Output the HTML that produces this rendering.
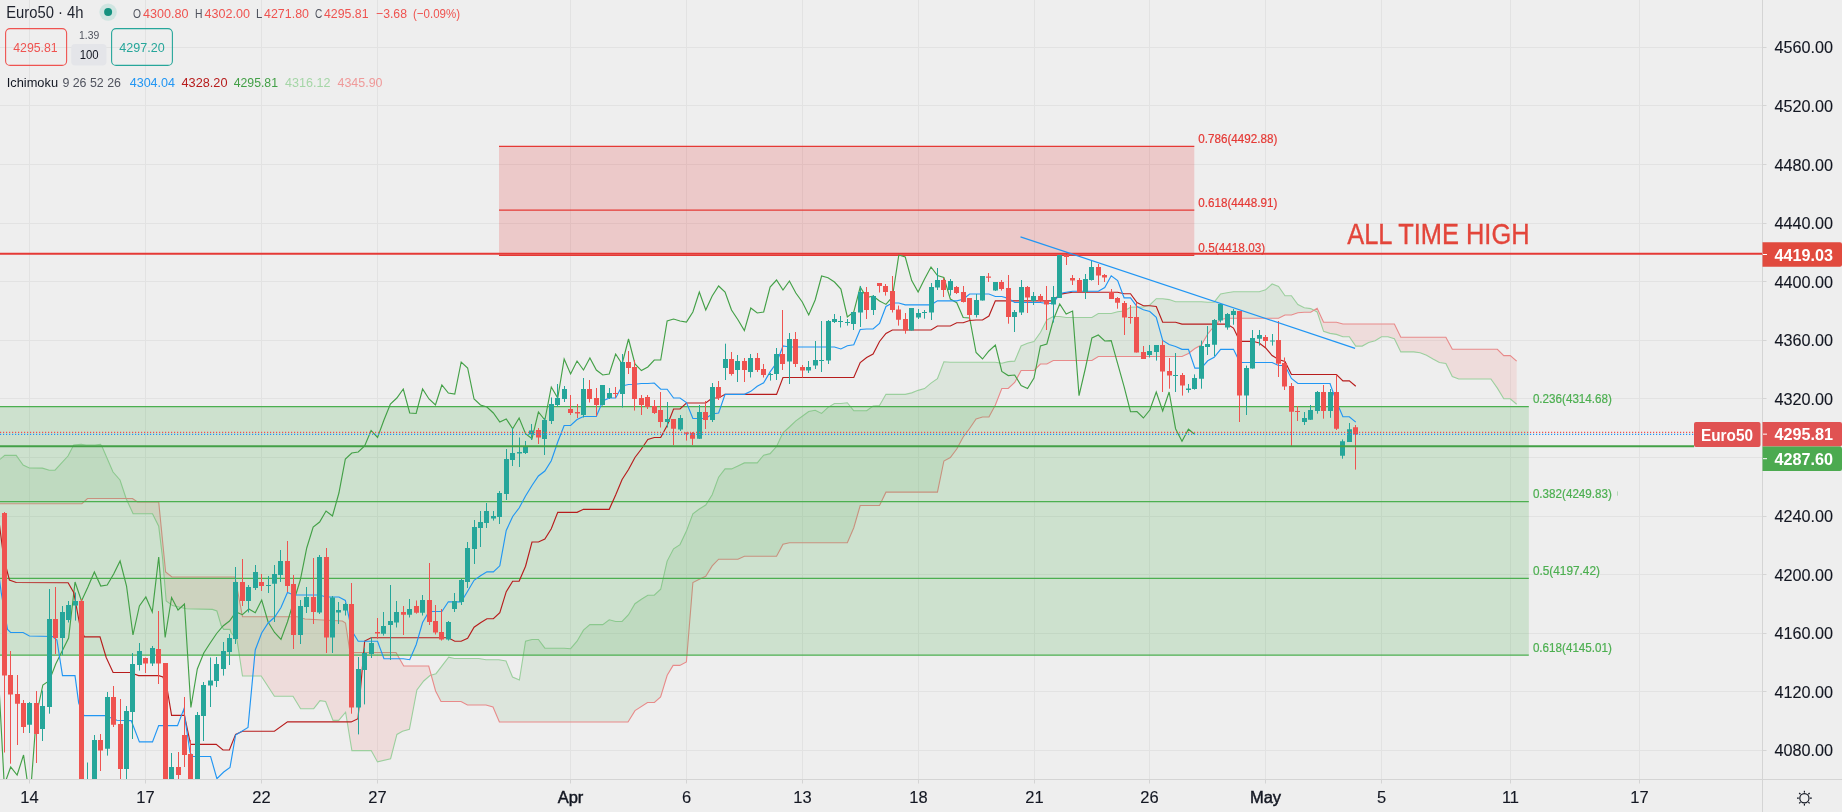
<!DOCTYPE html>
<html><head><meta charset="utf-8"><style>
html,body{margin:0;padding:0;background:#eeeeee;}
body{width:1842px;height:812px;overflow:hidden;position:relative;font-family:"Liberation Sans",sans-serif;}
</style></head><body>
<svg width="1842" height="812" viewBox="0 0 1842 812" style="position:absolute;left:0;top:0;will-change:transform"><rect width="1842" height="812" fill="#eeeeee"/><g stroke="#e2e2e2" stroke-width="1"><line x1="29.5" y1="0" x2="29.5" y2="779.5" /><line x1="145.5" y1="0" x2="145.5" y2="779.5" /><line x1="261.5" y1="0" x2="261.5" y2="779.5" /><line x1="377.5" y1="0" x2="377.5" y2="779.5" /><line x1="570.5" y1="0" x2="570.5" y2="779.5" /><line x1="686.5" y1="0" x2="686.5" y2="779.5" /><line x1="802.5" y1="0" x2="802.5" y2="779.5" /><line x1="918.5" y1="0" x2="918.5" y2="779.5" /><line x1="1034.5" y1="0" x2="1034.5" y2="779.5" /><line x1="1149.5" y1="0" x2="1149.5" y2="779.5" /><line x1="1265.5" y1="0" x2="1265.5" y2="779.5" /><line x1="1381.5" y1="0" x2="1381.5" y2="779.5" /><line x1="1510.5" y1="0" x2="1510.5" y2="779.5" /><line x1="1639.5" y1="0" x2="1639.5" y2="779.5" /><line x1="0" y1="47.5" x2="1762.5" y2="47.5" /><line x1="0" y1="105.5" x2="1762.5" y2="105.5" /><line x1="0" y1="164.5" x2="1762.5" y2="164.5" /><line x1="0" y1="223.5" x2="1762.5" y2="223.5" /><line x1="0" y1="281.5" x2="1762.5" y2="281.5" /><line x1="0" y1="340.5" x2="1762.5" y2="340.5" /><line x1="0" y1="398.5" x2="1762.5" y2="398.5" /><line x1="0" y1="457.5" x2="1762.5" y2="457.5" /><line x1="0" y1="516.5" x2="1762.5" y2="516.5" /><line x1="0" y1="574.5" x2="1762.5" y2="574.5" /><line x1="0" y1="633.5" x2="1762.5" y2="633.5" /><line x1="0" y1="691.5" x2="1762.5" y2="691.5" /><line x1="0" y1="750.5" x2="1762.5" y2="750.5" /></g><defs><clipPath id="pane"><rect x="0" y="0" width="1762" height="779"/></clipPath></defs><g clip-path="url(#pane)"><polygon points="0.00,459.40 4.75,455.40 16.20,455.40 23.10,465.00 29.30,468.00 42.40,468.10 49.30,470.20 55.00,470.20 68.00,456.00 73.70,445.00 81.10,444.40 81.90,444.50 86.10,445.00 87.50,445.00 95.00,445.00 100.50,444.40 101.80,446.00 107.40,459.00 113.00,472.00 120.00,480.00 126.13,498.50 126.13,498.50 120.00,498.50 113.00,498.50 107.40,498.50 101.80,498.50 100.50,498.50 95.00,498.50 87.50,498.50 86.10,499.80 81.90,503.70 81.10,503.70 73.70,503.70 68.00,503.70 55.00,503.70 49.30,503.70 42.40,503.70 29.30,503.70 23.10,503.70 16.20,503.70 4.75,503.70 0.00,503.70" fill="rgba(67,160,71,0.10)"/><polygon points="126.13,498.50 126.20,498.70 132.50,512.40 133.10,513.70 137.50,513.70 139.40,513.70 152.50,513.70 158.70,526.20 162.50,557.50 165.60,593.95 166.20,601.00 171.90,605.16 172.50,605.60 186.20,608.70 212.50,609.40 216.90,611.00 221.20,625.60 223.70,629.40 230.00,629.40 231.00,632.50 235.00,637.50 237.00,640.00 242.50,676.00 261.20,676.00 274.40,696.20 293.00,696.20 297.40,703.44 300.60,708.70 305.00,708.70 313.70,708.70 320.00,700.60 322.40,700.99 325.60,701.50 333.00,720.40 338.70,720.40 342.40,716.00 345.50,712.32 345.60,712.20 350.00,739.02 351.90,750.60 371.20,750.60 377.50,761.90 390.60,758.70 396.00,737.87 396.90,734.40 402.50,731.20 403.70,730.89 409.40,729.40 416.90,690.00 423.70,681.00 428.70,676.71 430.00,675.60 431.24,675.21 431.24,675.21 430.00,670.71 428.70,666.00 423.70,666.00 416.90,666.00 409.40,666.00 403.70,666.00 402.50,663.90 396.90,654.08 396.00,652.50 390.60,652.50 377.50,652.50 371.20,652.50 351.90,652.50 350.00,652.50 345.60,623.66 345.50,623.00 342.40,621.00 338.70,620.82 333.00,620.53 325.60,620.16 322.40,620.00 320.00,619.86 313.70,619.50 305.00,619.00 300.60,617.73 297.40,616.80 293.00,616.80 274.40,616.80 261.20,616.80 242.50,616.80 237.00,587.61 235.00,577.00 231.00,576.99 230.00,576.99 223.70,576.98 221.20,576.98 216.90,576.97 212.50,576.96 186.20,576.92 172.50,576.90 171.90,576.90 166.20,572.38 165.60,571.90 162.50,540.45 158.70,501.90 152.50,501.90 139.40,501.90 137.50,501.90 133.10,498.91 132.50,498.50 126.20,498.50 126.13,498.50" fill="rgba(244,67,54,0.10)"/><polygon points="431.24,675.21 435.60,673.83 436.00,673.70 441.00,667.20 448.70,657.20 454.40,658.50 461.00,658.50 467.50,658.50 478.70,658.50 486.00,659.70 493.00,659.70 498.70,659.70 499.40,659.82 506.00,661.00 512.50,677.00 519.40,680.00 525.55,641.10 531.99,639.45 538.42,639.45 544.86,648.20 551.29,648.20 557.73,648.20 564.16,648.20 570.60,648.70 577.04,641.20 583.47,630.10 589.91,624.60 596.34,624.60 602.78,624.60 609.22,619.75 615.65,621.50 622.09,621.50 628.00,615.30 628.52,614.75 634.96,603.75 635.00,603.72 641.39,599.25 647.50,595.46 647.83,595.25 654.27,595.25 654.40,595.12 660.60,589.34 660.70,589.25 667.14,561.10 667.20,560.98 673.10,549.75 673.57,548.85 679.80,544.74 680.01,544.60 686.40,531.19 686.44,531.10 692.88,513.75 699.32,509.00 705.75,505.00 712.19,494.75 718.62,477.15 725.06,468.90 731.50,468.90 737.93,465.90 744.37,462.90 750.80,462.90 757.24,462.90 763.67,455.15 770.11,453.65 776.55,446.50 782.98,432.75 789.42,427.00 795.85,420.88 802.29,416.25 808.73,411.50 815.16,410.25 821.60,413.38 828.03,407.38 834.47,403.50 840.90,403.50 847.34,402.75 853.78,410.75 860.21,410.75 866.65,410.75 873.08,406.00 879.52,405.50 885.95,394.35 892.39,394.35 898.83,394.35 905.26,394.35 911.70,392.85 918.13,390.35 924.57,388.60 931.01,383.10 937.44,378.60 943.88,361.75 950.31,362.25 956.75,362.25 963.18,362.25 969.62,362.25 976.06,362.25 982.49,362.25 988.93,362.25 995.36,362.25 1001.80,363.25 1008.23,361.62 1014.67,361.12 1021.11,346.00 1027.54,343.25 1033.98,341.50 1040.41,332.50 1046.85,320.00 1053.29,316.50 1059.72,316.50 1066.16,317.43 1072.59,317.43 1079.03,317.43 1085.46,317.43 1091.90,317.43 1098.34,313.43 1104.77,313.43 1111.21,313.43 1117.64,311.80 1124.08,311.02 1130.52,307.25 1136.95,307.00 1143.39,307.00 1149.82,305.00 1156.26,298.68 1162.69,298.68 1169.13,299.60 1175.57,301.68 1182.00,301.68 1188.44,301.68 1194.87,301.68 1201.31,301.68 1207.74,302.18 1214.18,302.18 1220.62,293.93 1227.05,292.68 1233.49,291.75 1239.92,291.75 1246.36,291.75 1252.80,291.75 1259.23,291.75 1265.67,289.88 1272.10,284.00 1278.54,286.43 1284.97,295.77 1291.41,295.77 1297.85,304.52 1304.28,307.77 1310.72,308.62 1313.91,310.26 1313.91,310.26 1310.72,312.25 1304.28,312.25 1297.85,312.75 1291.41,315.00 1284.97,315.00 1278.54,318.25 1272.10,318.25 1265.67,318.25 1259.23,318.25 1252.80,318.25 1246.36,318.25 1239.92,318.25 1233.49,318.25 1227.05,318.25 1220.62,319.50 1214.18,326.00 1207.74,334.00 1201.31,345.00 1194.87,348.50 1188.44,353.50 1182.00,356.50 1175.57,356.50 1169.13,356.50 1162.69,356.50 1156.26,356.50 1149.82,356.50 1143.39,356.50 1136.95,356.50 1130.52,356.50 1124.08,356.50 1117.64,356.50 1111.21,356.50 1104.77,356.50 1098.34,356.50 1091.90,360.50 1085.46,360.50 1079.03,360.50 1072.59,360.50 1066.16,360.50 1059.72,360.50 1053.29,360.50 1046.85,364.00 1040.41,364.00 1033.98,370.50 1027.54,370.50 1021.11,370.50 1014.67,382.50 1008.23,388.50 1001.80,388.50 995.36,405.00 988.93,417.00 982.49,417.00 976.06,419.00 969.62,428.50 963.18,437.00 956.75,449.00 950.31,457.50 943.88,461.00 937.44,492.15 931.01,492.15 924.57,492.15 918.13,492.15 911.70,492.15 905.26,492.15 898.83,492.15 892.39,492.15 885.95,492.15 879.52,505.50 873.08,505.50 866.65,505.50 860.21,505.50 853.78,527.70 847.34,542.70 840.90,542.70 834.47,542.70 828.03,542.70 821.60,542.70 815.16,542.70 808.73,542.70 802.29,542.70 795.85,542.70 789.42,542.70 782.98,544.20 776.55,556.20 770.11,556.20 763.67,556.20 757.24,556.20 750.80,556.20 744.37,556.20 737.93,559.20 731.50,559.20 725.06,559.20 718.62,559.20 712.19,565.95 705.75,576.20 699.32,579.20 692.88,582.50 686.44,661.45 686.40,662.00 680.01,665.29 679.80,665.40 673.57,665.40 673.10,665.40 667.20,675.30 667.14,675.51 660.70,696.67 660.60,697.00 654.40,702.50 654.27,702.50 647.83,702.50 647.50,702.50 641.39,706.46 635.00,710.60 634.96,710.67 628.52,721.15 628.00,722.00 622.09,722.00 615.65,722.00 609.22,722.00 602.78,722.00 596.34,722.00 589.91,722.00 583.47,722.00 577.04,722.00 570.60,722.00 564.16,722.00 557.73,722.00 551.29,722.00 544.86,722.00 538.42,722.00 531.99,722.00 525.55,722.00 519.40,722.00 512.50,722.00 506.00,722.00 499.40,722.00 498.70,720.36 493.00,707.00 486.00,705.00 478.70,705.00 467.50,705.00 461.00,701.50 454.40,701.50 448.70,701.50 441.00,701.50 436.00,691.78 435.60,691.00 431.24,675.21" fill="rgba(67,160,71,0.10)"/><polygon points="1313.91,310.26 1317.15,311.93 1323.59,331.38 1330.02,333.38 1336.46,334.38 1342.90,336.68 1349.33,336.68 1355.77,346.08 1362.20,346.08 1368.64,342.43 1375.08,340.68 1381.51,336.68 1387.95,336.68 1394.38,338.70 1400.82,351.90 1407.25,351.90 1413.69,351.90 1420.13,352.75 1426.56,355.25 1433.00,359.00 1439.43,362.50 1445.87,363.50 1452.31,376.50 1458.74,379.00 1465.18,379.00 1471.61,379.00 1478.05,379.00 1484.48,379.00 1490.92,379.00 1497.36,388.12 1503.79,398.77 1510.23,398.77 1516.66,404.23 1516.66,361.05 1510.23,355.60 1503.79,355.60 1497.36,349.25 1490.92,349.25 1484.48,349.25 1478.05,349.25 1471.61,349.25 1465.18,349.25 1458.74,349.25 1452.31,349.25 1445.87,337.25 1439.43,337.25 1433.00,337.25 1426.56,337.25 1420.13,337.25 1413.69,337.25 1407.25,337.25 1400.82,337.25 1394.38,324.05 1387.95,324.05 1381.51,324.05 1375.08,324.05 1368.64,324.05 1362.20,324.05 1355.77,324.05 1349.33,324.05 1342.90,324.05 1336.46,322.25 1330.02,322.25 1323.59,322.25 1317.15,308.25 1313.91,310.26" fill="rgba(244,67,54,0.10)"/><polyline points="0.00,459.40 4.75,455.40 16.20,455.40 23.10,465.00 29.30,468.00 42.40,468.10 49.30,470.20 55.00,470.20 68.00,456.00 73.70,445.00 81.10,444.40 86.10,445.00 95.00,445.00 100.50,444.40 101.80,446.00 107.40,459.00 113.00,472.00 120.00,480.00 126.20,498.70 133.10,513.70 139.40,513.70 152.50,513.70 158.70,526.20 162.50,557.50 166.20,601.00 172.50,605.60 186.20,608.70 212.50,609.40 216.90,611.00 221.20,625.60 223.70,629.40 230.00,629.40 231.00,632.50 237.00,640.00 242.50,676.00 261.20,676.00 274.40,696.20 293.00,696.20 300.60,708.70 313.70,708.70 320.00,700.60 325.60,701.50 333.00,720.40 338.70,720.40 345.60,712.20 351.90,750.60 371.20,750.60 377.50,761.90 390.60,758.70 396.90,734.40 402.50,731.20 409.40,729.40 416.90,690.00 423.70,681.00 430.00,675.60 436.00,673.70 448.70,657.20 454.40,658.50 478.70,658.50 486.00,659.70 498.70,659.70 506.00,661.00 512.50,677.00 519.40,680.00 525.55,641.10 531.99,639.45 538.42,639.45 544.86,648.20 551.29,648.20 557.73,648.20 564.16,648.20 570.60,648.70 577.04,641.20 583.47,630.10 589.91,624.60 596.34,624.60 602.78,624.60 609.22,619.75 615.65,621.50 622.09,621.50 628.52,614.75 634.96,603.75 641.39,599.25 647.83,595.25 654.27,595.25 660.70,589.25 667.14,561.10 673.57,548.85 680.01,544.60 686.44,531.10 692.88,513.75 699.32,509.00 705.75,505.00 712.19,494.75 718.62,477.15 725.06,468.90 731.50,468.90 737.93,465.90 744.37,462.90 750.80,462.90 757.24,462.90 763.67,455.15 770.11,453.65 776.55,446.50 782.98,432.75 789.42,427.00 795.85,420.88 802.29,416.25 808.73,411.50 815.16,410.25 821.60,413.38 828.03,407.38 834.47,403.50 840.90,403.50 847.34,402.75 853.78,410.75 860.21,410.75 866.65,410.75 873.08,406.00 879.52,405.50 885.95,394.35 892.39,394.35 898.83,394.35 905.26,394.35 911.70,392.85 918.13,390.35 924.57,388.60 931.01,383.10 937.44,378.60 943.88,361.75 950.31,362.25 956.75,362.25 963.18,362.25 969.62,362.25 976.06,362.25 982.49,362.25 988.93,362.25 995.36,362.25 1001.80,363.25 1008.23,361.62 1014.67,361.12 1021.11,346.00 1027.54,343.25 1033.98,341.50 1040.41,332.50 1046.85,320.00 1053.29,316.50 1059.72,316.50 1066.16,317.43 1072.59,317.43 1079.03,317.43 1085.46,317.43 1091.90,317.43 1098.34,313.43 1104.77,313.43 1111.21,313.43 1117.64,311.80 1124.08,311.02 1130.52,307.25 1136.95,307.00 1143.39,307.00 1149.82,305.00 1156.26,298.68 1162.69,298.68 1169.13,299.60 1175.57,301.68 1182.00,301.68 1188.44,301.68 1194.87,301.68 1201.31,301.68 1207.74,302.18 1214.18,302.18 1220.62,293.93 1227.05,292.68 1233.49,291.75 1239.92,291.75 1246.36,291.75 1252.80,291.75 1259.23,291.75 1265.67,289.88 1272.10,284.00 1278.54,286.43 1284.97,295.77 1291.41,295.77 1297.85,304.52 1304.28,307.77 1310.72,308.62 1317.15,311.93 1323.59,331.38 1330.02,333.38 1336.46,334.38 1342.90,336.68 1349.33,336.68 1355.77,346.08 1362.20,346.08 1368.64,342.43 1375.08,340.68 1381.51,336.68 1387.95,336.68 1394.38,338.70 1400.82,351.90 1407.25,351.90 1413.69,351.90 1420.13,352.75 1426.56,355.25 1433.00,359.00 1439.43,362.50 1445.87,363.50 1452.31,376.50 1458.74,379.00 1465.18,379.00 1471.61,379.00 1478.05,379.00 1484.48,379.00 1490.92,379.00 1497.36,388.12 1503.79,398.77 1510.23,398.77 1516.66,404.23" fill="none" stroke="#9ccf9e" stroke-width="1.1"/><polyline points="0.00,503.70 81.90,503.70 87.50,498.50 132.50,498.50 137.50,501.90 158.70,501.90 165.60,571.90 171.90,576.90 235.00,577.00 242.50,616.80 297.40,616.80 305.00,619.00 322.40,620.00 342.40,621.00 345.50,623.00 350.00,652.50 396.00,652.50 403.70,666.00 428.70,666.00 435.60,691.00 441.00,701.50 461.00,701.50 467.50,705.00 486.00,705.00 493.00,707.00 499.40,722.00 628.00,722.00 635.00,710.60 647.50,702.50 654.40,702.50 660.60,697.00 667.20,675.30 673.10,665.40 679.80,665.40 686.40,662.00 692.88,582.50 699.32,579.20 705.75,576.20 712.19,565.95 718.62,559.20 725.06,559.20 731.50,559.20 737.93,559.20 744.37,556.20 750.80,556.20 757.24,556.20 763.67,556.20 770.11,556.20 776.55,556.20 782.98,544.20 789.42,542.70 795.85,542.70 802.29,542.70 808.73,542.70 815.16,542.70 821.60,542.70 828.03,542.70 834.47,542.70 840.90,542.70 847.34,542.70 853.78,527.70 860.21,505.50 866.65,505.50 873.08,505.50 879.52,505.50 885.95,492.15 892.39,492.15 898.83,492.15 905.26,492.15 911.70,492.15 918.13,492.15 924.57,492.15 931.01,492.15 937.44,492.15 943.88,461.00 950.31,457.50 956.75,449.00 963.18,437.00 969.62,428.50 976.06,419.00 982.49,417.00 988.93,417.00 995.36,405.00 1001.80,388.50 1008.23,388.50 1014.67,382.50 1021.11,370.50 1027.54,370.50 1033.98,370.50 1040.41,364.00 1046.85,364.00 1053.29,360.50 1059.72,360.50 1066.16,360.50 1072.59,360.50 1079.03,360.50 1085.46,360.50 1091.90,360.50 1098.34,356.50 1104.77,356.50 1111.21,356.50 1117.64,356.50 1124.08,356.50 1130.52,356.50 1136.95,356.50 1143.39,356.50 1149.82,356.50 1156.26,356.50 1162.69,356.50 1169.13,356.50 1175.57,356.50 1182.00,356.50 1188.44,353.50 1194.87,348.50 1201.31,345.00 1207.74,334.00 1214.18,326.00 1220.62,319.50 1227.05,318.25 1233.49,318.25 1239.92,318.25 1246.36,318.25 1252.80,318.25 1259.23,318.25 1265.67,318.25 1272.10,318.25 1278.54,318.25 1284.97,315.00 1291.41,315.00 1297.85,312.75 1304.28,312.25 1310.72,312.25 1317.15,308.25 1323.59,322.25 1330.02,322.25 1336.46,322.25 1342.90,324.05 1349.33,324.05 1355.77,324.05 1362.20,324.05 1368.64,324.05 1375.08,324.05 1381.51,324.05 1387.95,324.05 1394.38,324.05 1400.82,337.25 1407.25,337.25 1413.69,337.25 1420.13,337.25 1426.56,337.25 1433.00,337.25 1439.43,337.25 1445.87,337.25 1452.31,349.25 1458.74,349.25 1465.18,349.25 1471.61,349.25 1478.05,349.25 1484.48,349.25 1490.92,349.25 1497.36,349.25 1503.79,355.60 1510.23,355.60 1516.66,361.05" fill="none" stroke="#e88a8a" stroke-width="1.1"/><rect x="499" y="146.40" width="695.30" height="108.93" fill="rgba(229,57,53,0.20)"/><line x1="499" y1="146.40" x2="1194.3" y2="146.40" stroke="#e53935" stroke-width="1.3"/><line x1="499" y1="210.10" x2="1194.3" y2="210.10" stroke="#e53935" stroke-width="1.3"/><line x1="499" y1="255.33" x2="1194.3" y2="255.33" stroke="#e53935" stroke-width="1.3"/><rect x="0" y="406.69" width="1528.8" height="248.50" fill="rgba(76,175,80,0.20)"/><line x1="0" y1="406.69" x2="1528.8" y2="406.69" stroke="#4caf50" stroke-width="1.3"/><line x1="0" y1="501.67" x2="1528.8" y2="501.67" stroke="#4caf50" stroke-width="1.3"/><line x1="0" y1="578.43" x2="1528.8" y2="578.43" stroke="#4caf50" stroke-width="1.3"/><line x1="0" y1="655.19" x2="1528.8" y2="655.19" stroke="#4caf50" stroke-width="1.3"/><polyline points="-2.19,663.50 4.25,785.00 10.69,767.00 17.12,775.00 23.56,755.00 29.99,800.00 36.43,715.00 42.86,685.00 49.30,680.60 55.74,664.00 62.17,651.00 68.61,638.00 75.04,582.00 81.48,601.00 87.92,587.00 94.35,572.00 100.79,586.00 107.22,585.00 113.66,574.00 120.09,561.00 126.53,586.00 132.97,635.00 139.40,606.00 145.84,597.00 152.27,612.00 158.71,557.00 165.15,637.50 171.58,597.50 178.02,610.00 184.45,604.00 190.89,707.50 197.32,669.00 203.76,653.00 210.20,643.00 216.63,633.50 223.07,626.00 229.50,621.00 235.94,612.00 242.37,614.70 248.81,609.00 255.25,612.70 261.68,600.00 268.12,622.00 274.55,632.50 280.99,639.40 287.43,622.00 293.86,601.00 300.30,580.00 306.73,548.00 313.17,527.00 319.60,522.00 326.04,511.00 332.48,516.00 338.91,493.00 345.35,459.00 351.78,453.00 358.22,452.00 364.65,446.00 371.09,430.60 377.53,437.50 383.96,420.00 390.40,404.00 396.83,398.00 403.27,389.00 409.71,413.00 416.14,413.50 422.58,389.00 429.01,399.00 435.45,405.00 441.88,385.00 448.32,393.00 454.76,394.00 461.19,362.00 467.63,368.00 474.06,399.00 480.50,405.00 486.94,407.00 493.37,413.00 499.81,422.00 506.24,419.00 512.68,428.70 519.11,418.00 525.55,433.70 531.99,438.70 538.42,412.00 544.86,420.00 551.29,387.00 557.73,398.00 564.16,359.00 570.60,374.00 577.04,361.00 583.47,370.00 589.91,358.00 596.34,370.00 602.78,375.00 609.22,374.00 615.65,354.00 622.09,364.00 628.52,339.00 634.96,364.00 641.39,370.60 647.83,367.00 654.27,360.00 660.70,360.00 667.14,321.00 673.57,319.00 680.01,321.00 686.44,322.00 692.88,312.00 699.32,292.00 705.75,310.00 712.19,296.00 718.62,286.00 725.06,292.00 731.50,310.00 737.93,319.70 744.37,330.60 750.80,308.00 757.24,313.00 763.67,312.00 770.11,287.00 776.55,280.00 782.98,290.00 789.42,281.00 795.85,293.00 802.29,302.00 808.73,315.00 815.16,300.00 821.60,276.00 828.03,277.70 834.47,282.00 840.90,289.00 847.34,317.00 853.78,312.00 860.21,287.00 866.65,297.50 873.08,296.00 879.52,301.00 885.95,304.40 892.39,297.00 898.83,255.00 905.26,257.00 911.70,280.60 918.13,292.00 924.57,279.00 931.01,267.00 937.44,275.60 943.88,277.50 950.31,299.00 956.75,302.70 963.18,317.50 969.62,318.00 976.06,352.50 982.49,359.00 988.93,351.00 995.36,345.00 1001.80,371.50 1008.23,375.60 1014.67,375.00 1021.11,385.60 1027.54,388.50 1033.98,378.00 1040.41,346.00 1046.85,344.00 1053.29,320.00 1059.72,304.00 1066.16,314.00 1072.59,311.00 1079.03,395.60 1085.46,368.00 1091.90,338.00 1098.34,335.00 1104.77,341.00 1111.21,340.60 1117.64,363.70 1124.08,386.60 1130.52,411.70 1136.95,411.50 1143.39,418.00 1149.82,410.00 1156.26,392.00 1162.69,411.00 1169.13,392.00 1175.57,428.70 1182.00,441.20 1188.44,429.20 1194.87,434.50" fill="none" stroke="#43a047" stroke-width="1.15"/><polyline points="-2.70,508.00 3.70,558.00 9.40,580.00 16.20,582.50 68.10,582.70 73.70,592.50 80.00,626.00 84.40,636.90 100.00,636.90 106.20,657.50 113.10,672.50 130.00,672.50 138.70,675.60 158.70,675.60 163.00,677.00 167.50,691.20 171.60,715.40 184.40,715.40 190.60,744.40 216.20,744.40 223.00,750.00 229.40,750.00 235.60,734.40 242.50,731.20 274.40,731.20 287.50,721.90 351.20,721.90 358.00,718.70 364.65,641.00 371.09,637.70 377.53,637.70 383.96,637.70 390.40,637.70 396.83,637.70 403.27,637.70 409.71,637.70 416.14,637.70 422.58,637.70 429.01,637.70 435.45,637.70 441.88,637.70 448.32,637.70 454.76,641.20 461.19,641.20 467.63,638.20 474.06,627.20 480.50,622.70 486.94,618.70 493.37,618.70 499.81,612.70 506.24,591.70 512.68,581.20 519.11,581.20 525.55,566.20 531.99,542.00 538.42,542.00 544.86,539.00 551.29,528.75 557.73,512.30 564.16,512.30 570.60,512.30 577.04,512.30 583.47,509.30 589.91,509.30 596.34,509.30 602.78,509.30 609.22,509.30 615.65,495.00 622.09,479.50 628.52,469.50 634.96,457.50 641.39,449.00 647.83,439.50 654.27,437.50 660.70,437.50 667.14,425.50 673.57,409.00 680.01,409.00 686.44,403.00 692.88,403.00 699.32,403.00 705.75,403.00 712.19,398.00 718.62,398.00 725.06,394.35 731.50,394.35 737.93,394.35 744.37,394.35 750.80,394.35 757.24,394.35 763.67,394.35 770.11,394.35 776.55,394.35 782.98,377.50 789.42,377.50 795.85,377.50 802.29,377.50 808.73,377.50 815.16,377.50 821.60,377.50 828.03,377.50 834.47,377.50 840.90,377.50 847.34,377.50 853.78,377.50 860.21,362.50 866.65,357.50 873.08,354.00 879.52,341.50 885.95,333.50 892.39,330.00 898.83,330.00 905.26,330.00 911.70,330.00 918.13,330.00 924.57,330.00 931.01,330.00 937.44,326.00 943.88,326.00 950.31,326.00 956.75,322.75 963.18,322.75 969.62,320.50 976.06,320.00 982.49,320.00 988.93,316.00 995.36,300.85 1001.80,300.85 1008.23,300.85 1014.67,300.85 1021.11,300.85 1027.54,300.85 1033.98,300.85 1040.41,300.85 1046.85,300.85 1053.29,300.85 1059.72,294.35 1066.16,293.10 1072.59,292.25 1079.03,292.25 1085.46,292.25 1091.90,292.25 1098.34,292.25 1104.77,292.25 1111.21,292.25 1117.64,292.25 1124.08,293.75 1130.52,293.75 1136.95,302.50 1143.39,305.75 1149.82,305.75 1156.26,306.55 1162.69,322.25 1169.13,322.25 1175.57,322.25 1182.00,324.05 1188.44,324.05 1194.87,324.05 1201.31,324.05 1207.74,324.05 1214.18,324.05 1220.62,324.05 1227.05,324.05 1233.49,328.10 1239.92,341.30 1246.36,341.30 1252.80,341.30 1259.23,343.00 1265.67,348.00 1272.10,355.50 1278.54,359.50 1284.97,361.50 1291.41,374.50 1297.85,374.50 1304.28,374.50 1310.72,374.50 1317.15,374.50 1323.59,374.50 1330.02,374.50 1336.46,374.50 1342.90,380.85 1349.33,380.85 1355.77,386.30" fill="none" stroke="#b71c1c" stroke-width="1.15"/><polyline points="-3.00,560.00 1.20,592.50 7.50,629.40 10.60,632.50 23.10,632.50 29.40,636.00 52.50,636.50 56.90,640.00 62.50,675.60 75.00,675.60 78.70,703.00 84.00,715.60 105.00,715.60 110.00,717.50 116.90,720.20 131.20,720.60 139.40,741.90 152.50,741.90 158.70,725.60 177.50,725.60 183.70,709.40 190.00,752.50 193.00,756.50 210.60,756.50 216.90,778.70 223.70,772.00 230.00,767.50 235.60,735.00 248.00,727.50 255.25,650.00 261.68,633.00 268.12,623.00 274.55,617.30 280.99,607.50 287.43,592.50 293.86,595.00 300.30,595.00 306.73,595.00 313.17,595.00 319.60,595.00 326.04,597.00 332.48,597.00 338.91,597.00 345.35,600.50 351.78,630.85 358.22,641.20 364.65,641.20 371.09,641.20 377.53,641.20 383.96,658.70 390.40,658.70 396.83,658.70 403.27,658.70 409.71,659.70 416.14,644.70 422.58,622.50 429.01,611.50 435.45,611.50 441.88,611.50 448.32,601.80 454.76,601.80 461.19,601.80 467.63,591.30 474.06,580.30 480.50,575.80 486.94,571.80 493.37,571.80 499.81,565.80 506.24,530.50 512.68,516.50 519.11,508.00 525.55,496.00 531.99,485.50 538.42,476.00 544.86,471.00 551.29,460.75 557.73,442.00 564.16,425.50 570.60,425.50 577.04,419.50 583.47,416.50 589.91,416.50 596.34,416.50 602.78,401.00 609.22,398.00 615.65,398.00 622.09,386.00 628.52,384.50 634.96,384.25 641.39,383.50 647.83,383.50 654.27,383.00 660.70,389.25 667.14,389.25 673.57,398.00 680.01,398.00 686.44,402.50 692.88,418.50 699.32,418.50 705.75,418.50 712.19,414.00 718.62,413.00 725.06,394.35 731.50,394.35 737.93,394.35 744.37,394.35 750.80,391.35 757.24,386.35 763.67,382.85 770.11,371.85 776.55,362.85 782.98,346.00 789.42,347.00 795.85,347.00 802.29,347.00 808.73,347.00 815.16,347.00 821.60,347.00 828.03,347.00 834.47,347.00 840.90,349.00 847.34,345.75 853.78,344.75 860.21,329.50 866.65,329.00 873.08,329.00 879.52,323.50 885.95,306.50 892.39,303.00 898.83,303.00 905.26,304.85 911.70,304.85 918.13,304.85 924.57,304.85 931.01,304.85 937.44,300.85 943.88,300.85 950.31,300.85 956.75,300.85 963.18,299.30 969.62,294.00 976.06,294.00 982.49,294.00 988.93,294.00 995.36,296.50 1001.80,296.50 1008.23,298.35 1014.67,302.50 1021.11,302.50 1027.54,302.50 1033.98,302.50 1040.41,302.50 1046.85,303.50 1053.29,303.50 1059.72,293.50 1066.16,292.25 1072.59,291.25 1079.03,291.25 1085.46,291.25 1091.90,291.25 1098.34,291.25 1104.77,287.50 1111.21,275.75 1117.64,280.60 1124.08,297.80 1130.52,297.80 1136.95,306.55 1143.39,309.80 1149.82,311.50 1156.26,317.30 1162.69,340.50 1169.13,344.50 1175.57,346.50 1182.00,349.30 1188.44,349.30 1194.87,368.10 1201.31,368.10 1207.74,360.80 1214.18,357.30 1220.62,349.30 1227.05,349.30 1233.49,349.30 1239.92,362.50 1246.36,362.50 1252.80,362.50 1259.23,362.50 1265.67,362.50 1272.10,362.50 1278.54,365.50 1284.97,365.50 1291.41,378.50 1297.85,383.50 1304.28,383.50 1310.72,383.50 1317.15,383.50 1323.59,383.50 1330.02,383.50 1336.46,401.75 1342.90,416.70 1349.33,416.70 1355.77,422.15" fill="none" stroke="#2196f3" stroke-width="1.15"/><path d="M29.5 702.00V733.00M42.5 690.60V741.00M49.5 589.00V713.70M62.5 606.00V655.00M68.5 601.00V622.50M75.5 592.50V620.60M87.5 762.50V795.00M94.5 735.00V795.00M107.5 692.00V755.60M126.5 706.00V795.00M132.5 653.00V739.00M139.5 643.00V670.60M152.5 646.00V666.00M171.5 753.00V795.00M197.5 712.00V795.00M203.5 682.00V741.00M210.5 657.50V707.00M216.5 657.00V687.00M223.5 642.00V675.60M229.5 634.00V665.00M235.5 567.00V644.00M248.5 585.00V612.50M255.5 565.00V590.00M268.5 576.00V593.00M274.5 565.00V622.00M280.5 550.00V582.00M300.5 600.00V644.00M306.5 587.00V613.00M319.5 555.00V614.00M332.5 596.00V653.00M338.5 602.00V624.00M345.5 603.00V615.50M358.5 657.00V734.40M364.5 648.00V704.40M371.5 637.50V658.00M383.5 612.00V635.60M390.5 585.00V660.00M396.5 601.00V627.50M409.5 599.00V617.50M422.5 595.00V615.50M448.5 621.00V640.60M454.5 593.00V612.00M461.5 579.00V605.00M467.5 542.00V588.00M474.5 520.00V564.00M480.5 511.00V547.00M486.5 503.00V528.00M493.5 511.00V520.60M499.5 491.00V524.00M506.5 449.00V500.00M512.5 428.00V466.00M519.5 437.50V467.00M525.5 441.00V454.00M531.5 424.00V440.00M544.5 418.00V455.00M551.5 397.50V424.00M557.5 384.00V407.00M564.5 386.00V402.00M583.5 378.00V417.50M602.5 385.00V405.60M609.5 388.00V399.00M622.5 354.00V407.50M667.5 402.00V427.50M680.5 415.00V431.00M699.5 405.00V439.00M712.5 383.00V422.00M725.5 343.70V380.00M737.5 355.00V382.00M750.5 354.00V377.50M770.5 373.00V380.60M776.5 348.00V380.00M789.5 333.00V384.00M808.5 361.00V373.00M815.5 341.00V369.00M821.5 321.00V372.00M828.5 320.00V364.00M834.5 314.00V323.00M840.5 316.00V327.50M847.5 319.00V325.60M853.5 312.00V330.00M860.5 286.00V327.00M873.5 295.00V315.00M911.5 308.00V330.60M918.5 309.00V319.00M924.5 310.00V318.70M931.5 283.00V320.00M937.5 268.00V290.00M950.5 279.00V295.60M976.5 294.00V317.50M982.5 276.00V300.60M995.5 282.00V291.00M1014.5 310.00V332.00M1021.5 280.00V315.00M1033.5 292.00V305.00M1053.5 286.00V322.50M1059.5 255.00V298.00M1085.5 274.00V299.00M1091.5 260.60V280.60M1149.5 345.00V357.50M1156.5 345.00V360.60M1175.5 353.00V392.00M1188.5 384.00V392.70M1194.5 374.40V389.70M1201.5 340.60V388.70M1207.5 326.00V355.00M1214.5 319.00V356.00M1220.5 303.00V322.50M1227.5 313.00V329.70M1233.5 309.00V324.70M1246.5 365.60V415.00M1252.5 330.00V368.70M1259.5 330.00V345.60M1272.5 334.00V345.60M1304.5 412.00V425.00M1310.5 405.00V420.00M1317.5 391.00V413.70M1330.5 389.00V417.80M1342.5 439.40V458.70M1349.5 423.00V441.90" stroke="#26a69a" stroke-width="1" fill="none"/><path d="M4.5 512.00V752.50M10.5 651.00V763.70M17.5 675.00V745.00M23.5 700.00V733.00M36.5 691.00V763.00M55.5 587.00V654.00M81.5 599.00V795.00M100.5 734.00V771.00M113.5 686.00V727.00M120.5 699.00V795.00M145.5 657.50V673.00M158.5 611.00V684.00M165.5 663.00V795.00M178.5 752.00V795.00M184.5 697.00V767.00M190.5 740.00V795.00M242.5 559.00V606.00M261.5 574.00V591.00M287.5 541.00V592.00M293.5 575.00V649.00M313.5 558.00V624.00M326.5 548.00V653.00M351.5 583.00V713.70M377.5 618.00V638.70M403.5 606.00V635.00M416.5 600.50V613.70M429.5 563.00V625.00M435.5 605.00V634.50M441.5 609.00V640.60M538.5 428.00V444.00M570.5 395.00V415.00M577.5 404.00V418.00M589.5 380.00V402.50M596.5 388.00V416.00M615.5 387.00V398.00M628.5 351.00V374.00M634.5 360.00V410.60M641.5 395.00V415.00M647.5 395.00V409.00M654.5 400.00V414.00M660.5 392.00V427.50M673.5 419.00V445.00M686.5 432.50V440.60M692.5 432.00V445.00M705.5 401.00V429.00M718.5 381.00V400.00M731.5 352.00V375.60M744.5 358.00V382.00M757.5 353.00V372.00M763.5 364.00V377.50M782.5 310.00V370.00M795.5 332.00V367.00M802.5 365.00V377.50M866.5 287.00V319.00M879.5 283.00V292.50M885.5 284.00V295.60M892.5 276.00V312.50M898.5 305.60V325.60M905.5 313.00V333.70M943.5 278.00V297.00M956.5 286.00V294.00M963.5 286.00V302.50M969.5 298.00V320.00M988.5 273.00V282.00M1001.5 280.00V290.60M1008.5 275.00V323.70M1027.5 286.00V313.00M1040.5 294.00V302.00M1046.5 286.00V330.00M1066.5 252.50V265.00M1072.5 275.00V285.00M1079.5 278.00V292.00M1098.5 264.00V285.00M1104.5 274.00V282.00M1111.5 289.00V299.00M1117.5 297.00V308.70M1124.5 301.00V335.00M1130.5 305.00V323.70M1136.5 303.00V352.50M1143.5 346.00V359.00M1162.5 340.60V392.00M1169.5 358.00V388.70M1182.5 373.00V395.60M1239.5 311.00V422.00M1265.5 335.00V347.00M1278.5 321.00V377.00M1284.5 357.50V390.00M1291.5 383.00V446.00M1297.5 406.00V421.00M1323.5 385.00V418.70M1336.5 374.70V430.00M1355.5 425.00V469.60" stroke="#ef5350" stroke-width="1" fill="none"/><path d="M27 703.00h5v21.70h-5zM40 706.00h5v23.00h-5zM47 619.00h5v88.00h-5zM60 612.00h5v26.00h-5zM66 605.00h5v15.00h-5zM73 601.00h5v4.60h-5zM85 790.00h5v5.00h-5zM92 740.00h5v55.00h-5zM105 697.00h5v51.70h-5zM124 711.00h5v58.00h-5zM130 664.00h5v48.00h-5zM137 651.00h5v14.00h-5zM150 648.00h5v15.50h-5zM169 767.00h5v28.00h-5zM195 715.00h5v80.00h-5zM201 685.00h5v31.00h-5zM208 680.60h5v5.00h-5zM214 664.00h5v17.00h-5zM221 651.00h5v18.00h-5zM227 638.00h5v14.00h-5zM233 582.00h5v57.00h-5zM246 587.00h5v14.00h-5zM253 572.00h5v16.00h-5zM266 585.00h5v1.00h-5zM272 574.00h5v9.70h-5zM278 561.00h5v14.00h-5zM298 606.00h5v29.00h-5zM304 597.00h5v10.00h-5zM317 557.00h5v55.50h-5zM330 597.50h5v40.00h-5zM336 610.00h5v2.50h-5zM343 604.00h5v6.50h-5zM356 669.00h5v38.50h-5zM362 653.00h5v17.00h-5zM369 643.00h5v11.00h-5zM381 626.00h5v7.70h-5zM388 621.00h5v4.00h-5zM394 612.00h5v10.40h-5zM407 609.00h5v5.70h-5zM420 600.00h5v12.70h-5zM446 622.00h5v17.40h-5zM452 601.00h5v8.00h-5zM459 580.00h5v22.00h-5zM465 548.00h5v34.00h-5zM472 527.00h5v22.00h-5zM478 522.00h5v6.00h-5zM484 511.00h5v12.00h-5zM491 516.00h5v2.50h-5zM497 493.00h5v24.00h-5zM504 459.00h5v35.00h-5zM510 453.00h5v7.00h-5zM517 452.00h5v1.50h-5zM523 446.00h5v7.00h-5zM529 430.60h5v3.80h-5zM542 420.00h5v19.00h-5zM549 404.00h5v17.00h-5zM555 398.00h5v7.00h-5zM562 389.00h5v10.00h-5zM581 389.00h5v26.00h-5zM600 385.00h5v20.00h-5zM607 393.00h5v5.00h-5zM620 362.00h5v32.00h-5zM665 419.00h5v3.00h-5zM678 418.00h5v11.40h-5zM697 412.00h5v26.70h-5zM710 387.00h5v33.00h-5zM723 359.00h5v9.00h-5zM735 361.00h5v9.00h-5zM748 358.00h5v14.00h-5zM768 374.00h5v1.00h-5zM774 354.00h5v20.00h-5zM787 339.00h5v22.50h-5zM806 367.00h5v3.60h-5zM813 360.00h5v5.60h-5zM819 360.00h5v1.00h-5zM826 321.00h5v39.60h-5zM832 319.00h5v3.00h-5zM838 321.00h5v1.00h-5zM845 322.00h5v1.00h-5zM851 312.00h5v12.00h-5zM858 292.00h5v20.50h-5zM871 296.00h5v14.00h-5zM909 308.00h5v22.60h-5zM916 313.00h5v4.50h-5zM922 312.00h5v1.00h-5zM929 287.00h5v25.50h-5zM935 280.00h5v7.50h-5zM948 281.00h5v9.00h-5zM974 300.00h5v15.00h-5zM980 276.00h5v24.60h-5zM993 282.00h5v8.60h-5zM1012 312.00h5v5.00h-5zM1019 287.00h5v25.50h-5zM1031 296.00h5v5.00h-5zM1051 297.00h5v7.40h-5zM1057 255.00h5v43.00h-5zM1083 279.00h5v13.00h-5zM1089 267.00h5v13.00h-5zM1147 351.00h5v4.00h-5zM1154 345.00h5v7.00h-5zM1173 375.00h5v1.00h-5zM1186 388.50h5v1.50h-5zM1192 378.00h5v11.00h-5zM1199 346.00h5v32.70h-5zM1205 344.00h5v3.00h-5zM1212 320.00h5v24.70h-5zM1218 304.00h5v16.60h-5zM1225 314.00h5v13.50h-5zM1231 311.00h5v4.00h-5zM1244 368.00h5v27.60h-5zM1250 338.00h5v30.50h-5zM1257 335.00h5v3.70h-5zM1270 340.60h5v1.00h-5zM1302 418.00h5v3.90h-5zM1308 410.00h5v9.70h-5zM1315 392.00h5v19.00h-5zM1328 392.00h5v19.00h-5zM1340 441.20h5v14.60h-5zM1347 429.20h5v12.70h-5z" fill="#26a69a"/><path d="M2 513.00h5v162.50h-5zM8 675.00h5v19.50h-5zM15 694.00h5v9.70h-5zM21 703.00h5v24.00h-5zM34 703.00h5v31.00h-5zM53 619.00h5v19.00h-5zM79 601.00h5v194.00h-5zM98 740.00h5v10.60h-5zM111 697.00h5v27.70h-5zM118 724.00h5v45.00h-5zM143 658.00h5v5.50h-5zM156 649.00h5v14.50h-5zM163 663.00h5v122.00h-5zM176 767.00h5v8.00h-5zM182 735.00h5v20.00h-5zM188 754.00h5v41.00h-5zM240 582.00h5v19.00h-5zM259 582.00h5v4.00h-5zM285 561.00h5v25.00h-5zM291 584.00h5v51.00h-5zM311 597.00h5v15.00h-5zM324 557.00h5v80.50h-5zM349 604.00h5v103.50h-5zM375 632.00h5v1.50h-5zM401 612.00h5v2.70h-5zM414 606.00h5v6.70h-5zM427 600.00h5v22.00h-5zM433 621.00h5v11.50h-5zM439 632.00h5v7.40h-5zM536 430.00h5v7.50h-5zM568 409.00h5v4.00h-5zM575 412.00h5v1.50h-5zM587 389.00h5v10.00h-5zM594 398.00h5v7.00h-5zM613 393.00h5v1.00h-5zM626 362.00h5v6.00h-5zM632 367.00h5v32.00h-5zM639 398.00h5v7.00h-5zM645 397.00h5v10.00h-5zM652 406.00h5v7.00h-5zM658 410.00h5v12.00h-5zM671 419.00h5v9.70h-5zM684 432.50h5v1.20h-5zM690 433.00h5v5.70h-5zM703 412.00h5v8.00h-5zM716 387.00h5v11.00h-5zM729 359.00h5v15.00h-5zM742 361.00h5v9.00h-5zM755 358.00h5v12.00h-5zM761 369.00h5v6.00h-5zM780 354.00h5v10.00h-5zM793 339.00h5v25.00h-5zM800 367.00h5v3.60h-5zM864 292.00h5v18.00h-5zM877 283.00h5v3.00h-5zM883 286.00h5v6.00h-5zM890 291.00h5v19.00h-5zM896 309.40h5v10.30h-5zM903 319.00h5v11.60h-5zM941 280.00h5v10.00h-5zM954 287.00h5v6.00h-5zM961 292.00h5v10.00h-5zM967 298.00h5v17.00h-5zM986 276.50h5v1.20h-5zM999 282.00h5v7.00h-5zM1006 288.00h5v29.00h-5zM1025 287.00h5v10.50h-5zM1038 296.00h5v5.00h-5zM1044 300.60h5v3.80h-5zM1064 255.00h5v2.00h-5zM1070 278.00h5v2.60h-5zM1077 280.00h5v12.00h-5zM1096 267.00h5v8.60h-5zM1102 275.00h5v2.50h-5zM1109 292.00h5v7.00h-5zM1115 298.00h5v4.70h-5zM1122 303.00h5v14.50h-5zM1128 317.00h5v1.00h-5zM1134 317.00h5v35.50h-5zM1141 352.00h5v7.00h-5zM1160 345.00h5v26.50h-5zM1167 371.00h5v4.60h-5zM1180 375.00h5v10.60h-5zM1237 311.00h5v84.60h-5zM1263 337.00h5v4.00h-5zM1276 340.00h5v23.70h-5zM1282 363.00h5v23.60h-5zM1289 386.00h5v25.70h-5zM1295 411.00h5v1.00h-5zM1321 392.00h5v19.00h-5zM1334 392.00h5v36.70h-5zM1353 427.20h5v7.30h-5z" fill="#ef5350"/><line x1="0" y1="253.86" x2="1762" y2="253.86" stroke="#e53935" stroke-width="2"/><line x1="0" y1="446.35" x2="1694" y2="446.35" stroke="#43a047" stroke-width="2"/><line x1="0" y1="432.29" x2="1694" y2="432.29" stroke="#ef5350" stroke-width="1.2" stroke-dasharray="1.2 1.8"/><line x1="0" y1="434.33" x2="1694" y2="434.33" stroke="#2196f3" stroke-width="1.2" stroke-dasharray="1.2 1.8"/><line x1="1020.5" y1="236.8" x2="1355.1" y2="348.3" stroke="#2196f3" stroke-width="1.25"/></g><text x="1198.3" y="143" fill="#e53935" font-size="12" font-family="Liberation Sans" text-anchor="start" font-weight="normal" textLength="79" lengthAdjust="spacingAndGlyphs" stroke="#e53935" stroke-width="0.2">0.786(4492.88)</text><text x="1198.3" y="207" fill="#e53935" font-size="12" font-family="Liberation Sans" text-anchor="start" font-weight="normal" textLength="79" lengthAdjust="spacingAndGlyphs" stroke="#e53935" stroke-width="0.2">0.618(4448.91)</text><text x="1198.3" y="251.7" fill="#e53935" font-size="12" font-family="Liberation Sans" text-anchor="start" font-weight="normal" textLength="67" lengthAdjust="spacingAndGlyphs" stroke="#e53935" stroke-width="0.2">0.5(4418.03)</text><text x="1347.2" y="244" fill="#e3453a" stroke="#e3453a" stroke-width="0.35" font-size="29" font-family="Liberation Sans" textLength="182.4" lengthAdjust="spacingAndGlyphs">ALL TIME HIGH</text><text x="1532.9" y="403" fill="#4caf50" font-size="12" font-family="Liberation Sans" text-anchor="start" font-weight="normal" textLength="79" lengthAdjust="spacingAndGlyphs" stroke="#4caf50" stroke-width="0.2">0.236(4314.68)</text><line x1="1617.5" y1="491.4" x2="1617.5" y2="495.7" stroke="rgba(76,175,80,0.35)" stroke-width="1"/><text x="1532.9" y="498" fill="#4caf50" font-size="12" font-family="Liberation Sans" text-anchor="start" font-weight="normal" textLength="79" lengthAdjust="spacingAndGlyphs" stroke="#4caf50" stroke-width="0.2">0.382(4249.83)</text><text x="1532.9" y="575" fill="#4caf50" font-size="12" font-family="Liberation Sans" text-anchor="start" font-weight="normal" textLength="67" lengthAdjust="spacingAndGlyphs" stroke="#4caf50" stroke-width="0.2">0.5(4197.42)</text><text x="1532.9" y="652" fill="#4caf50" font-size="12" font-family="Liberation Sans" text-anchor="start" font-weight="normal" textLength="79" lengthAdjust="spacingAndGlyphs" stroke="#4caf50" stroke-width="0.2">0.618(4145.01)</text><line x1="1762.5" y1="0" x2="1762.5" y2="812" stroke="#d4d4d4" stroke-width="1"/><line x1="0" y1="779.5" x2="1842" y2="779.5" stroke="#d4d4d4" stroke-width="1"/><line x1="1762.5" y1="47.5" x2="1766.5" y2="47.5" stroke="#d4d4d4"/><text x="1774.4" y="53.4" fill="#131722" font-size="16.8" font-family="Liberation Sans" text-anchor="start" font-weight="normal" textLength="58.6" lengthAdjust="spacingAndGlyphs" stroke="#131722" stroke-width="0.12">4560.00</text><line x1="1762.5" y1="105.5" x2="1766.5" y2="105.5" stroke="#d4d4d4"/><text x="1774.4" y="111.9832" fill="#131722" font-size="16.8" font-family="Liberation Sans" text-anchor="start" font-weight="normal" textLength="58.6" lengthAdjust="spacingAndGlyphs" stroke="#131722" stroke-width="0.12">4520.00</text><line x1="1762.5" y1="164.5" x2="1766.5" y2="164.5" stroke="#d4d4d4"/><text x="1774.4" y="170.5664" fill="#131722" font-size="16.8" font-family="Liberation Sans" text-anchor="start" font-weight="normal" textLength="58.6" lengthAdjust="spacingAndGlyphs" stroke="#131722" stroke-width="0.12">4480.00</text><line x1="1762.5" y1="223.5" x2="1766.5" y2="223.5" stroke="#d4d4d4"/><text x="1774.4" y="229.1496" fill="#131722" font-size="16.8" font-family="Liberation Sans" text-anchor="start" font-weight="normal" textLength="58.6" lengthAdjust="spacingAndGlyphs" stroke="#131722" stroke-width="0.12">4440.00</text><line x1="1762.5" y1="281.5" x2="1766.5" y2="281.5" stroke="#d4d4d4"/><text x="1774.4" y="287.7328" fill="#131722" font-size="16.8" font-family="Liberation Sans" text-anchor="start" font-weight="normal" textLength="58.6" lengthAdjust="spacingAndGlyphs" stroke="#131722" stroke-width="0.12">4400.00</text><line x1="1762.5" y1="340.5" x2="1766.5" y2="340.5" stroke="#d4d4d4"/><text x="1774.4" y="346.316" fill="#131722" font-size="16.8" font-family="Liberation Sans" text-anchor="start" font-weight="normal" textLength="58.6" lengthAdjust="spacingAndGlyphs" stroke="#131722" stroke-width="0.12">4360.00</text><line x1="1762.5" y1="398.5" x2="1766.5" y2="398.5" stroke="#d4d4d4"/><text x="1774.4" y="404.89919999999995" fill="#131722" font-size="16.8" font-family="Liberation Sans" text-anchor="start" font-weight="normal" textLength="58.6" lengthAdjust="spacingAndGlyphs" stroke="#131722" stroke-width="0.12">4320.00</text><line x1="1762.5" y1="516.5" x2="1766.5" y2="516.5" stroke="#d4d4d4"/><text x="1774.4" y="522.0656" fill="#131722" font-size="16.8" font-family="Liberation Sans" text-anchor="start" font-weight="normal" textLength="58.6" lengthAdjust="spacingAndGlyphs" stroke="#131722" stroke-width="0.12">4240.00</text><line x1="1762.5" y1="574.5" x2="1766.5" y2="574.5" stroke="#d4d4d4"/><text x="1774.4" y="580.6487999999999" fill="#131722" font-size="16.8" font-family="Liberation Sans" text-anchor="start" font-weight="normal" textLength="58.6" lengthAdjust="spacingAndGlyphs" stroke="#131722" stroke-width="0.12">4200.00</text><line x1="1762.5" y1="633.5" x2="1766.5" y2="633.5" stroke="#d4d4d4"/><text x="1774.4" y="639.232" fill="#131722" font-size="16.8" font-family="Liberation Sans" text-anchor="start" font-weight="normal" textLength="58.6" lengthAdjust="spacingAndGlyphs" stroke="#131722" stroke-width="0.12">4160.00</text><line x1="1762.5" y1="691.5" x2="1766.5" y2="691.5" stroke="#d4d4d4"/><text x="1774.4" y="697.8152" fill="#131722" font-size="16.8" font-family="Liberation Sans" text-anchor="start" font-weight="normal" textLength="58.6" lengthAdjust="spacingAndGlyphs" stroke="#131722" stroke-width="0.12">4120.00</text><line x1="1762.5" y1="750.5" x2="1766.5" y2="750.5" stroke="#d4d4d4"/><text x="1774.4" y="756.3983999999999" fill="#131722" font-size="16.8" font-family="Liberation Sans" text-anchor="start" font-weight="normal" textLength="58.6" lengthAdjust="spacingAndGlyphs" stroke="#131722" stroke-width="0.12">4080.00</text><line x1="29.5" y1="779.5" x2="29.5" y2="783.5" stroke="#d4d4d4"/><text x="29.5" y="803.3" fill="#131722" stroke="#131722" stroke-width="0.12" font-size="16.5" font-family="Liberation Sans" text-anchor="middle">14</text><line x1="145.5" y1="779.5" x2="145.5" y2="783.5" stroke="#d4d4d4"/><text x="145.5" y="803.3" fill="#131722" stroke="#131722" stroke-width="0.12" font-size="16.5" font-family="Liberation Sans" text-anchor="middle">17</text><line x1="261.5" y1="779.5" x2="261.5" y2="783.5" stroke="#d4d4d4"/><text x="261.5" y="803.3" fill="#131722" stroke="#131722" stroke-width="0.12" font-size="16.5" font-family="Liberation Sans" text-anchor="middle">22</text><line x1="377.5" y1="779.5" x2="377.5" y2="783.5" stroke="#d4d4d4"/><text x="377.5" y="803.3" fill="#131722" stroke="#131722" stroke-width="0.12" font-size="16.5" font-family="Liberation Sans" text-anchor="middle">27</text><line x1="570.5" y1="779.5" x2="570.5" y2="783.5" stroke="#d4d4d4"/><text x="570.5" y="803.3" fill="#131722" stroke="#131722" stroke-width="0.45" font-size="16.5" font-family="Liberation Sans" text-anchor="middle">Apr</text><line x1="686.5" y1="779.5" x2="686.5" y2="783.5" stroke="#d4d4d4"/><text x="686.5" y="803.3" fill="#131722" stroke="#131722" stroke-width="0.12" font-size="16.5" font-family="Liberation Sans" text-anchor="middle">6</text><line x1="802.5" y1="779.5" x2="802.5" y2="783.5" stroke="#d4d4d4"/><text x="802.5" y="803.3" fill="#131722" stroke="#131722" stroke-width="0.12" font-size="16.5" font-family="Liberation Sans" text-anchor="middle">13</text><line x1="918.5" y1="779.5" x2="918.5" y2="783.5" stroke="#d4d4d4"/><text x="918.5" y="803.3" fill="#131722" stroke="#131722" stroke-width="0.12" font-size="16.5" font-family="Liberation Sans" text-anchor="middle">18</text><line x1="1034.5" y1="779.5" x2="1034.5" y2="783.5" stroke="#d4d4d4"/><text x="1034.5" y="803.3" fill="#131722" stroke="#131722" stroke-width="0.12" font-size="16.5" font-family="Liberation Sans" text-anchor="middle">21</text><line x1="1149.5" y1="779.5" x2="1149.5" y2="783.5" stroke="#d4d4d4"/><text x="1149.5" y="803.3" fill="#131722" stroke="#131722" stroke-width="0.12" font-size="16.5" font-family="Liberation Sans" text-anchor="middle">26</text><line x1="1265.5" y1="779.5" x2="1265.5" y2="783.5" stroke="#d4d4d4"/><text x="1265.5" y="803.3" fill="#131722" stroke="#131722" stroke-width="0.45" font-size="16.5" font-family="Liberation Sans" text-anchor="middle">May</text><line x1="1381.5" y1="779.5" x2="1381.5" y2="783.5" stroke="#d4d4d4"/><text x="1381.5" y="803.3" fill="#131722" stroke="#131722" stroke-width="0.12" font-size="16.5" font-family="Liberation Sans" text-anchor="middle">5</text><line x1="1510.5" y1="779.5" x2="1510.5" y2="783.5" stroke="#d4d4d4"/><text x="1510.5" y="803.3" fill="#131722" stroke="#131722" stroke-width="0.12" font-size="16.5" font-family="Liberation Sans" text-anchor="middle">11</text><line x1="1639.5" y1="779.5" x2="1639.5" y2="783.5" stroke="#d4d4d4"/><text x="1639.5" y="803.3" fill="#131722" stroke="#131722" stroke-width="0.12" font-size="16.5" font-family="Liberation Sans" text-anchor="middle">17</text><path d="M1762.5 242.20H1840a2 2 0 0 1 2 2V264.80a2 2 0 0 1 -2 2H1762.5z" fill="#e14a3e"/><line x1="1763" y1="254.50" x2="1767" y2="254.50" stroke="#ffffff" stroke-width="1"/><text x="1774.4" y="260.8" fill="#ffffff" font-size="16.8" font-family="Liberation Sans" text-anchor="start" font-weight="bold" textLength="58.6" lengthAdjust="spacingAndGlyphs">4419.03</text><path d="M1762.5 421.90H1840a2 2 0 0 1 2 2V444.40a2 2 0 0 1 -2 2H1762.5z" fill="#e05252"/><line x1="1763" y1="434.15" x2="1767" y2="434.15" stroke="#ffffff" stroke-width="1"/><text x="1774.4" y="440.45" fill="#ffffff" font-size="16.8" font-family="Liberation Sans" text-anchor="start" font-weight="bold" textLength="58.6" lengthAdjust="spacingAndGlyphs">4295.81</text><path d="M1762.5 446.40H1840a2 2 0 0 1 2 2V469.00a2 2 0 0 1 -2 2H1762.5z" fill="#4caa50"/><line x1="1763" y1="458.70" x2="1767" y2="458.70" stroke="#ffffff" stroke-width="1"/><text x="1774.4" y="465.0" fill="#ffffff" font-size="16.8" font-family="Liberation Sans" text-anchor="start" font-weight="bold" textLength="58.6" lengthAdjust="spacingAndGlyphs">4287.60</text><rect x="1694" y="422" width="66.5" height="25" rx="2" fill="#e05252"/><text x="1727" y="440.5" fill="#ffffff" font-size="16.8" font-family="Liberation Sans" text-anchor="middle" font-weight="bold" textLength="52" lengthAdjust="spacingAndGlyphs">Euro50</text><g transform="translate(1804.4,798.2)" stroke="#131722" stroke-width="1.2" fill="none"><circle r="4.6"/><line x1="0" y1="-5.6" x2="0" y2="-7.4" transform="rotate(0)"/><line x1="0" y1="-5.6" x2="0" y2="-7.4" transform="rotate(45)"/><line x1="0" y1="-5.6" x2="0" y2="-7.4" transform="rotate(90)"/><line x1="0" y1="-5.6" x2="0" y2="-7.4" transform="rotate(135)"/><line x1="0" y1="-5.6" x2="0" y2="-7.4" transform="rotate(180)"/><line x1="0" y1="-5.6" x2="0" y2="-7.4" transform="rotate(225)"/><line x1="0" y1="-5.6" x2="0" y2="-7.4" transform="rotate(270)"/><line x1="0" y1="-5.6" x2="0" y2="-7.4" transform="rotate(315)"/></g><text x="6.2" y="18.2" fill="#1e222d" font-size="16.3" font-family="Liberation Sans" text-anchor="start" font-weight="normal" textLength="77.3" lengthAdjust="spacingAndGlyphs">Euro50 · 4h</text><circle cx="108.1" cy="12.1" r="8.7" fill="#cfe5e1"/><circle cx="108.1" cy="12.1" r="4" fill="#14927f"/><text x="133.1" y="17.9" fill="#50535e" font-size="12.8" font-family="Liberation Sans" text-anchor="start" font-weight="normal" textLength="8" lengthAdjust="spacingAndGlyphs">O</text><text x="143" y="17.9" fill="#ef5350" font-size="12.8" font-family="Liberation Sans" text-anchor="start" font-weight="normal" textLength="45.5" lengthAdjust="spacingAndGlyphs">4300.80</text><text x="195" y="17.9" fill="#50535e" font-size="12.8" font-family="Liberation Sans" text-anchor="start" font-weight="normal" textLength="7.5" lengthAdjust="spacingAndGlyphs">H</text><text x="204.5" y="17.9" fill="#ef5350" font-size="12.8" font-family="Liberation Sans" text-anchor="start" font-weight="normal" textLength="45.5" lengthAdjust="spacingAndGlyphs">4302.00</text><text x="256" y="17.9" fill="#50535e" font-size="12.8" font-family="Liberation Sans" text-anchor="start" font-weight="normal" textLength="6.3" lengthAdjust="spacingAndGlyphs">L</text><text x="264" y="17.9" fill="#ef5350" font-size="12.8" font-family="Liberation Sans" text-anchor="start" font-weight="normal" textLength="45" lengthAdjust="spacingAndGlyphs">4271.80</text><text x="315" y="17.9" fill="#50535e" font-size="12.8" font-family="Liberation Sans" text-anchor="start" font-weight="normal" textLength="7.3" lengthAdjust="spacingAndGlyphs">C</text><text x="324" y="17.9" fill="#ef5350" font-size="12.8" font-family="Liberation Sans" text-anchor="start" font-weight="normal" textLength="44.5" lengthAdjust="spacingAndGlyphs">4295.81</text><text x="376" y="17.9" fill="#ef5350" font-size="12.8" font-family="Liberation Sans" text-anchor="start" font-weight="normal" textLength="31" lengthAdjust="spacingAndGlyphs">−3.68</text><text x="413" y="17.9" fill="#ef5350" font-size="12.8" font-family="Liberation Sans" text-anchor="start" font-weight="normal" textLength="47" lengthAdjust="spacingAndGlyphs">(−0.09%)</text><rect x="5.6" y="28.6" width="61" height="36.8" rx="4.5" fill="none" stroke="#ef5350" stroke-width="1.1"/><text x="13.2" y="52.2" fill="#ef5350" font-size="12.8" font-family="Liberation Sans" text-anchor="start" font-weight="normal" textLength="44.5" lengthAdjust="spacingAndGlyphs">4295.81</text><text x="79" y="39.2" fill="#50535e" font-size="11" font-family="Liberation Sans" text-anchor="start" font-weight="normal" textLength="20.2" lengthAdjust="spacingAndGlyphs">1.39</text><rect x="71.2" y="44" width="35.3" height="21.5" rx="4" fill="#e4e5e9"/><text x="79.7" y="59" fill="#131722" font-size="12.8" font-family="Liberation Sans" text-anchor="start" font-weight="normal" textLength="19" lengthAdjust="spacingAndGlyphs">100</text><rect x="111.6" y="28.6" width="60.8" height="36.8" rx="4.5" fill="none" stroke="#26a69a" stroke-width="1.1"/><text x="119.3" y="52.2" fill="#26a69a" font-size="12.8" font-family="Liberation Sans" text-anchor="start" font-weight="normal" textLength="45.4" lengthAdjust="spacingAndGlyphs">4297.20</text><text x="6.7" y="86.8" fill="#131722" font-size="12.5" font-family="Liberation Sans" text-anchor="start" font-weight="normal" textLength="51.4" lengthAdjust="spacingAndGlyphs">Ichimoku</text><text x="62.4" y="86.8" fill="#50535e" font-size="12.5" font-family="Liberation Sans" text-anchor="start" font-weight="normal" textLength="58.6" lengthAdjust="spacingAndGlyphs">9 26 52 26</text><text x="129.7" y="86.8" fill="#2196f3" font-size="12.5" font-family="Liberation Sans" text-anchor="start" font-weight="normal" textLength="45.3" lengthAdjust="spacingAndGlyphs">4304.04</text><text x="181.5" y="86.8" fill="#b71c1c" font-size="12.5" font-family="Liberation Sans" text-anchor="start" font-weight="normal" textLength="46" lengthAdjust="spacingAndGlyphs">4328.20</text><text x="233.7" y="86.8" fill="#43a047" font-size="12.5" font-family="Liberation Sans" text-anchor="start" font-weight="normal" textLength="44.3" lengthAdjust="spacingAndGlyphs">4295.81</text><text x="285" y="86.8" fill="#a5d6a7" font-size="12.5" font-family="Liberation Sans" text-anchor="start" font-weight="normal" textLength="45.5" lengthAdjust="spacingAndGlyphs">4316.12</text><text x="337.5" y="86.8" fill="#ef9a9a" font-size="12.5" font-family="Liberation Sans" text-anchor="start" font-weight="normal" textLength="45" lengthAdjust="spacingAndGlyphs">4345.90</text></svg>
</body></html>
